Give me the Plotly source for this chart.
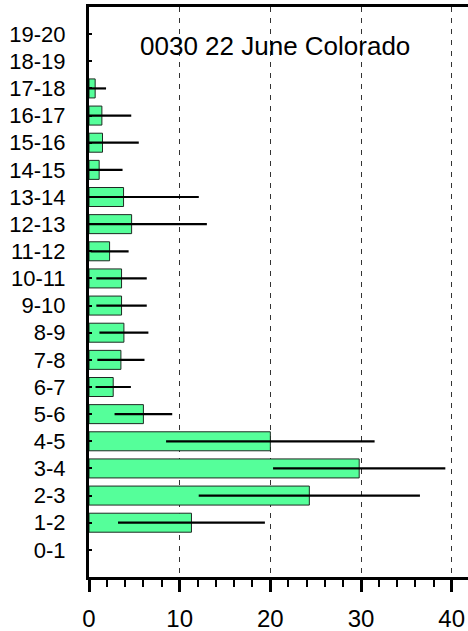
import plotly.graph_objects as go

# Height bins (km) and mean values with one-standard-deviation spread
bins = ["0-1", "1-2", "2-3", "3-4", "4-5", "5-6", "6-7", "7-8", "8-9", "9-10",
        "10-11", "11-12", "12-13", "13-14", "14-15", "15-16", "16-17", "17-18",
        "18-19", "19-20"]
means = [None, 11.3, 24.3, 29.8, 20.0, 6.0, 2.67, 3.52, 3.85, 3.59,
         3.59, 2.27, 4.70, 3.81, 1.12, 1.49, 1.42, 0.68, None, None]
spread = [0, 8.1, 12.2, 9.5, 11.5, 3.18, 1.95, 2.6, 2.7, 2.78,
          2.78, 2.1, 8.3, 8.3, 2.58, 4.0, 3.24, 1.2, 0, 0]

title_text = "0030 22 June Colorado"
x_ticks = [0, 10, 20, 30, 40]

FONT = "Liberation Sans, Arial, Helvetica, sans-serif"

fig = go.Figure()
fig.add_trace(go.Bar(
    y=bins,
    x=means,
    orientation="h",
    width=0.7,
    marker=dict(color="#55FF9A", line=dict(color="#1e2a22", width=1)),
    error_x=dict(type="data", array=spread, symmetric=True,
                 color="black", thickness=2.2, width=0),
    cliponaxis=True,
))

fig.add_annotation(
    text=title_text, xref="paper", yref="paper",
    x=0.49, y=0.932, showarrow=False,
    font=dict(family=FONT, size=26, color="black"),
    xanchor="center", yanchor="middle",
)

fig.update_layout(
    width=468, height=631,
    margin=dict(l=89, r=0, t=7, b=54),
    paper_bgcolor="white", plot_bgcolor="white",
    showlegend=False,
    font=dict(family=FONT, size=22, color="black"),
    xaxis=dict(
        range=[0, 41.8],
        tickvals=x_ticks,
        ticks="outside", ticklen=12, tickwidth=3, tickcolor="black",
        minor=dict(dtick=2, tick0=0, ticks="outside", ticklen=7,
                   tickwidth=2, tickcolor="black", showgrid=False),
        showline=True, linewidth=3, linecolor="black", mirror=True,
        showgrid=True, gridcolor="#333333", gridwidth=1, griddash="5px,6px",
        zeroline=False,
        automargin=False,
        ticklabelstandoff=6,
        tickfont=dict(family=FONT, size=24),
    ),
    yaxis=dict(
        type="category",
        categoryorder="array", categoryarray=bins,
        range=[-1, 20],
        ticks="inside", ticklen=3, tickwidth=2, tickcolor="black",
        showline=True, linewidth=3, linecolor="black", mirror=False,
        showgrid=False, zeroline=False,
        automargin=False,
        ticklabelstandoff=16,
        tickfont=dict(family=FONT, size=22),
    ),
)

fig.write_html("out.html")
